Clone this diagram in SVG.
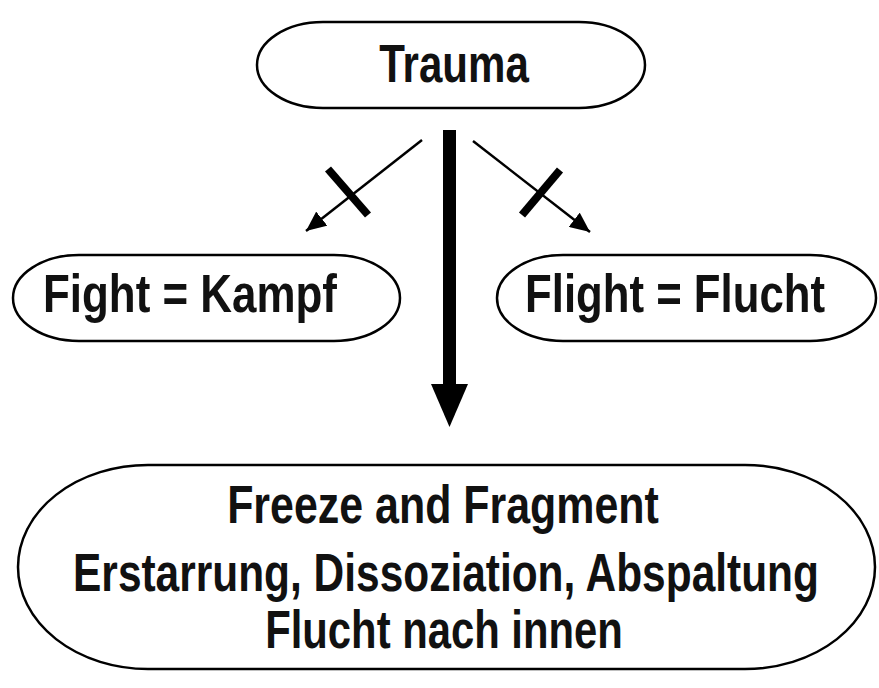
<svg xmlns="http://www.w3.org/2000/svg" width="879" height="688" viewBox="0 0 879 688">
<style>
.pill{fill:#fff;stroke:#000;stroke-width:2.5}
.t{font-family:"Liberation Sans",Arial,sans-serif;font-weight:bold;font-size:53px;fill:#111;text-anchor:middle}
.thin{stroke:#000;stroke-width:2.5;fill:none}
.bar{stroke:#000;stroke-width:8;stroke-linecap:butt}
</style>
<defs>
<marker id="ah" markerUnits="userSpaceOnUse" markerWidth="22" markerHeight="18" refX="20" refY="9" orient="auto">
<path d="M0,0 L20,9 L0,18 Z" fill="#000"/>
</marker>
</defs>
<rect width="879" height="688" fill="#fff"/>
<g id="trauma">
<rect class="pill" x="257" y="22" width="388" height="86" rx="66" ry="43"/>
<text class="t" transform="translate(454,82) scale(0.794,1)">Trauma</text>
</g>
<g id="fight">
<rect class="pill" x="13" y="255" width="387" height="86" rx="66" ry="43"/>
<text class="t" transform="translate(190,312) scale(0.829,1)">Fight = Kampf</text>
</g>
<g id="flight">
<rect class="pill" x="497" y="255" width="379" height="86" rx="66" ry="43"/>
<text class="t" transform="translate(675,312) scale(0.825,1)">Flight = Flucht</text>
</g>
<g id="freeze">
<rect class="pill" x="18" y="465" width="857" height="204" rx="130" ry="102"/>
<text class="t" transform="translate(443,523) scale(0.81,1)">Freeze and Fragment</text>
<text class="t" transform="translate(446,591) scale(0.801,1)">Erstarrung, Dissoziation, Abspaltung</text>
<text class="t" transform="translate(444,648) scale(0.789,1)">Flucht nach innen</text>
</g>
<g id="connectors">
<line class="thin" x1="422" y1="140" x2="306" y2="231" marker-end="url(#ah)"/>
<line class="bar" x1="328" y1="169" x2="368" y2="215"/>
<line class="thin" x1="473" y1="141" x2="590" y2="232" marker-end="url(#ah)"/>
<line class="bar" x1="560" y1="170" x2="522" y2="215"/>
<rect x="443" y="130" width="13" height="256" fill="#000"/>
<path d="M431,384 L468,384 L449.5,427 Z" fill="#000"/>
</g>
</svg>
